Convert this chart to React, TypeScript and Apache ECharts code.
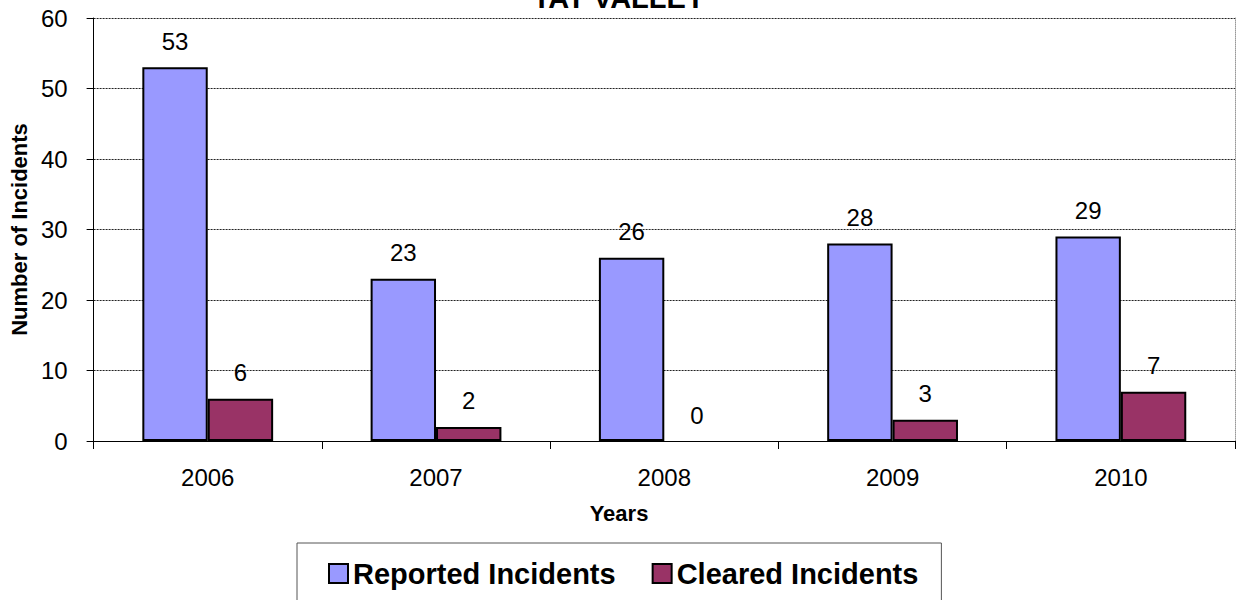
import React, { useEffect, useRef } from "react";
import * as echarts from "echarts";

const years = ["2006", "2007", "2008", "2009", "2010"];
const reported = [53, 23, 26, 28, 29];
const cleared = [6, 2, 0, 3, 7];
const seriesNames = ["Reported Incidents", "Cleared Incidents"];
const titleText = "TAT VALLEY";
const xName = "Years";
const yName = "Number of Incidents";

const FONT = 'Arial, "Liberation Sans", sans-serif';

export default function App() {
  const ref = useRef<HTMLDivElement>(null);
  useEffect(() => {
    document.body.style.margin = "0";
    const chart = echarts.init(ref.current!, undefined, { renderer: "svg" });
    const labelStyle = {
      show: true,
      position: "top" as const,
      distance: 14,
      fontSize: 24,
      fontFamily: FONT,
      color: "#000",
    };
    const withBorder = (vals: number[]) =>
      vals.map((v) => ({ value: v, itemStyle: { borderWidth: v === 0 ? 0 : 2 } }));
    chart.setOption({
      animation: false,
      backgroundColor: "#fff",
      textStyle: { fontFamily: FONT },
      grid: { left: 91, right: 3, top: 18, bottom: 159, containLabel: false },
      graphic: [
        {
          type: "text",
          x: 619,
          y: 12,
          style: {
            text: titleText,
            font: `bold 29px ${FONT}`,
            fill: "#000",
            textAlign: "center",
            textVerticalAlign: "bottom",
          },
        },
        {
          type: "text",
          x: 619,
          y: 513,
          style: {
            text: xName,
            font: `bold 22px ${FONT}`,
            fill: "#000",
            textAlign: "center",
            textVerticalAlign: "middle",
          },
        },
      ],
      legend: {
        left: 297,
        top: 543,
        padding: [16, 23, 20, 31],
        itemWidth: 19,
        itemHeight: 19,
        itemGap: 36,
        icon: "rect",
        borderColor: "#555",
        borderWidth: 1,
        textStyle: { fontSize: 29, fontWeight: "bold", fontFamily: FONT, color: "#000", lineHeight: 28 },
        data: seriesNames,
      },
      xAxis: {
        type: "category",
        data: years,
        axisLine: { show: true, lineStyle: { color: "#000", width: 1 } },
        axisTick: { show: true, length: 8, lineStyle: { color: "#000" } },
        axisLabel: { fontSize: 24, color: "#000", margin: 24, fontFamily: FONT },
        splitLine: { show: false },
      },
      yAxis: [
        {
          type: "value",
          min: 0,
          max: 60,
          interval: 10,
          name: yName,
          nameLocation: "middle",
          nameGap: 63,
          nameTextStyle: { fontSize: 22, fontWeight: "bold", color: "#000", fontFamily: FONT },
          axisLine: { show: true, lineStyle: { color: "#000", width: 1 } },
          axisTick: { show: true, length: 7, lineStyle: { color: "#000" } },
          axisLabel: { fontSize: 24, color: "#000", margin: 26, fontFamily: FONT },
          splitLine: { show: true, lineStyle: { color: "#222", type: [2, 1], width: 1 } },
        },
        {
          type: "value",
          min: 0,
          max: 60,
          interval: 10,
          position: "right",
          axisLine: { show: true, lineStyle: { color: "#999", type: "dotted", width: 1 } },
          axisTick: { show: false },
          axisLabel: { show: false },
          splitLine: { show: false },
        },
      ],
      series: [
        {
          name: seriesNames[0],
          type: "bar",
          data: withBorder(reported),
          barGap: "0%",
          barCategoryGap: "42.7%",
          itemStyle: { color: "#9999FF", borderColor: "#000", borderWidth: 2 },
          label: labelStyle,
        },
        {
          name: seriesNames[1],
          type: "bar",
          data: withBorder(cleared),
          itemStyle: { color: "#993366", borderColor: "#000", borderWidth: 2 },
          label: labelStyle,
        },
      ],
    });
    return () => chart.dispose();
  }, []);
  return <div ref={ref} style={{ width: 1238, height: 600 }} />;
}
